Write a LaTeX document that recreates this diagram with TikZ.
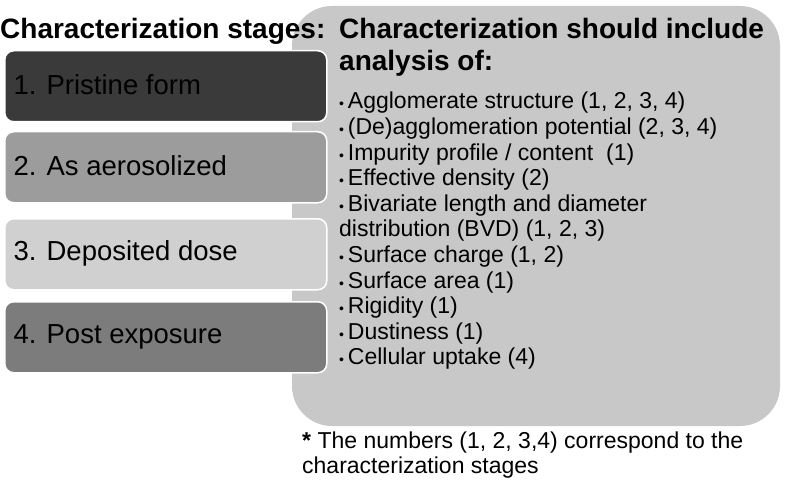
\documentclass[tikz,border=0pt]{standalone}
\usepackage{fontspec}
\setmainfont{Liberation Sans}
\usetikzlibrary{positioning}

\definecolor{stageA}{RGB}{58,58,58}
\definecolor{stageB}{RGB}{156,156,156}
\definecolor{stageC}{RGB}{208,208,208}
\definecolor{stageD}{RGB}{124,124,124}
\definecolor{panel}{RGB}{200,200,200}

\newcommand{\itemdot}{{\fontsize{14}{14}\selectfont\textbullet}\,}

\tikzset{
  stagebox/.style={draw=white, line width=1.5pt, rounded corners=9pt,
    minimum width=322pt, minimum height=71pt, inner sep=0pt},
  stagetext/.style={anchor=west, font=\fontsize{27.5}{30}\selectfont},
}

\begin{document}
\begin{tikzpicture}[x=1pt,y=-1pt]
\useasboundingbox (0,0) rectangle (786,489);

\fill[panel, rounded corners=40pt] (292,6) rectangle (780,426);

\node[stagebox, fill=stageA, anchor=north west] (pristine) at (4,50) {};
\node[stagebox, fill=stageB, anchor=north west] (aerosol) at (4,131) {};
\node[stagebox, fill=stageC, anchor=north west] (deposit) at (4,218) {};
\node[stagebox, fill=stageD, anchor=north west] (postexp) at (4,301) {};
\node[stagetext] at (10,85) {1. Pristine form};
\node[stagetext] at (10,166) {2. As aerosolized};
\node[stagetext] at (10,253) {3. Deposited dose};
\node[stagetext] at (10,337) {4. Post exposure};

\node[anchor=west, inner sep=0pt, font=\bfseries\fontsize{28}{30}\selectfont] (stages) at (0,31) {Characterization stages:};
\node[anchor=north west, align=left, inner sep=0pt, font=\bfseries\fontsize{28}{32}\selectfont] (heading) at (339,18) {Characterization should include\\analysis of:};

\node[anchor=north west, align=left, inner sep=0pt, font=\fontsize{23}{25.6}\selectfont] (items) at (339,92)
{\itemdot Agglomerate structure (1, 2, 3, 4)\\
\itemdot (De)agglomeration potential (2, 3, 4)\\
\itemdot Impurity profile / content\ \ (1)\\
\itemdot Effective density (2)\\
\itemdot Bivariate length and diameter\\
distribution (BVD) (1, 2, 3)\\
\itemdot Surface charge (1, 2)\\
\itemdot Surface area (1)\\
\itemdot Rigidity (1)\\
\itemdot Dustiness (1)\\
\itemdot Cellular uptake (4)};

\node[anchor=north west, align=left, inner sep=0pt, font=\fontsize{23}{25}\selectfont] (note) at (302,432)
{\textbf{*} The numbers (1, 2, 3,4) correspond to the\\characterization stages};
\end{tikzpicture}
\end{document}
